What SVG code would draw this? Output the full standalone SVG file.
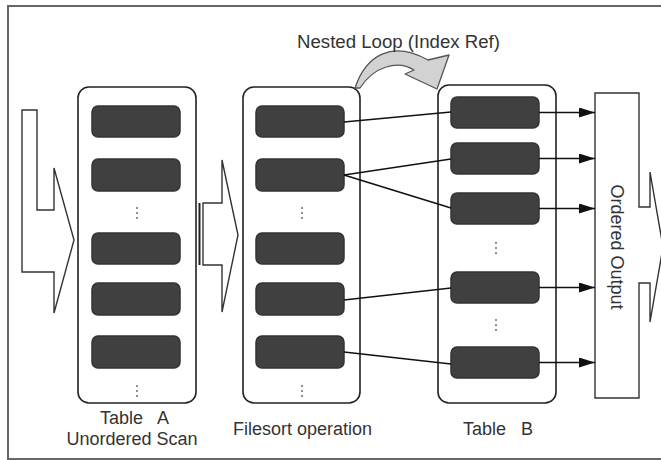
<svg xmlns="http://www.w3.org/2000/svg" width="661" height="460" viewBox="0 0 661 460">
<style>
  .frame{fill:#fff;stroke:#666;stroke-width:2}
  .cont{fill:#fff;stroke:#222;stroke-width:1.6}
  .row{fill:#404040;stroke:#333;stroke-width:1.5}
  .blk{fill:#fff;stroke:#333;stroke-width:1.4;stroke-linejoin:miter}
  .dot{fill:#777}
  .lbl{font-family:"Liberation Sans",Arial,sans-serif;font-size:18px;fill:#333}
  .con{stroke:#111;stroke-width:1.6;fill:none}
  .arr{stroke:#111;stroke-width:1.6;fill:none;marker-end:url(#ah)}
</style>
<defs>
  <marker id="ah" viewBox="0 0 16 10" refX="16" refY="5" markerWidth="16" markerHeight="10" markerUnits="userSpaceOnUse" orient="auto">
    <path d="M0,0 L16,5 L0,10 Z" fill="#111"/>
  </marker>
  <g id="dots">
    <circle cx="0" cy="-5" r="1.1" class="dot"/>
    <circle cx="0" cy="0" r="1.1" class="dot"/>
    <circle cx="0" cy="5" r="1.1" class="dot"/>
  </g>
</defs>
<rect x="8" y="6" width="670" height="453" class="frame"/>

<g id="input-arrow">
  <polygon class="blk" points="22,110 37,110 37,210 54,210 54,168 74,240 54,313 54,272 22,272"/>
</g>

<g id="tableA">
  <rect x="78" y="87" width="118" height="316" rx="11" class="cont"/>
  <rect x="92" y="106" width="88" height="31" rx="6" class="row"/>
  <rect x="92" y="159" width="88" height="32" rx="6" class="row"/>
  <use href="#dots" x="137" y="213"/>
  <rect x="92" y="233" width="88" height="31" rx="6" class="row"/>
  <rect x="92" y="283" width="88" height="32" rx="6" class="row"/>
  <rect x="92" y="336" width="88" height="32" rx="6" class="row"/>
  <use href="#dots" x="137" y="391"/>
  <text class="lbl" x="100" y="424" xml:space="preserve">Table   A</text>
  <text class="lbl" x="132" y="445" text-anchor="middle">Unordered Scan</text>
</g>

<g id="mid-arrow">
  <polygon class="blk" points="203,203 222,203 222,160 238,235 222,312 222,265 203,265"/>
  <line x1="199.5" y1="203" x2="199.5" y2="265" stroke="#222" stroke-width="2"/>
</g>

<g id="filesort">
  <rect x="243" y="87" width="117" height="316" rx="11" class="cont"/>
  <rect x="256" y="106" width="88" height="31" rx="6" class="row"/>
  <rect x="256" y="159" width="88" height="32" rx="6" class="row"/>
  <use href="#dots" x="302" y="213"/>
  <rect x="256" y="233" width="88" height="31" rx="6" class="row"/>
  <rect x="256" y="283" width="88" height="32" rx="6" class="row"/>
  <rect x="256" y="336" width="88" height="32" rx="6" class="row"/>
  <use href="#dots" x="302" y="391"/>
  <text class="lbl" x="233" y="435">Filesort operation</text>
</g>

<g id="nested-loop">
  <path d="M355,88 C366,55 392,40 428,60 L449,55 L437,89 L405,74 L414,70 C398,60 374,66 360,88 Z" fill="#d2d2d2" stroke="#555" stroke-width="1.3" stroke-linejoin="round"/>
  <text class="lbl" x="297" y="48" textLength="203" lengthAdjust="spacingAndGlyphs">Nested Loop (Index Ref)</text>
</g>

<g id="tableB">
  <rect x="438" y="85" width="118" height="318" rx="11" class="cont"/>
  <rect x="451" y="97" width="88" height="31" rx="6" class="row"/>
  <rect x="451" y="143" width="88" height="31" rx="6" class="row"/>
  <rect x="451" y="193" width="88" height="31" rx="6" class="row"/>
  <use href="#dots" x="496" y="248"/>
  <rect x="451" y="272" width="88" height="31" rx="6" class="row"/>
  <use href="#dots" x="496" y="325"/>
  <rect x="451" y="347" width="88" height="31" rx="6" class="row"/>
  <text class="lbl" x="463" y="435" xml:space="preserve">Table   B</text>
</g>

<g id="ordered-output">
  <polygon class="blk" points="595,93 639,93 639,207 650,207 650,172 663,247 650,322 650,283 639,283 639,398 595,398"/>
  <text class="lbl" transform="translate(617,247) rotate(90)" text-anchor="middle" dominant-baseline="central">Ordered Output</text>
</g>

<g id="connectors">
  <line class="con" x1="344" y1="122" x2="451" y2="112"/>
  <line class="con" x1="344" y1="175" x2="451" y2="159"/>
  <line class="con" x1="344" y1="175" x2="451" y2="208"/>
  <line class="con" x1="344" y1="300" x2="451" y2="288"/>
  <line class="con" x1="344" y1="352" x2="451" y2="364"/>
  <line class="arr" x1="539" y1="112.5" x2="595" y2="112.5"/>
  <line class="arr" x1="539" y1="158.5" x2="595" y2="158.5"/>
  <line class="arr" x1="539" y1="208.5" x2="595" y2="208.5"/>
  <line class="arr" x1="539" y1="287.5" x2="595" y2="287.5"/>
  <line class="arr" x1="539" y1="362.5" x2="595" y2="362.5"/>
</g>
</svg>
